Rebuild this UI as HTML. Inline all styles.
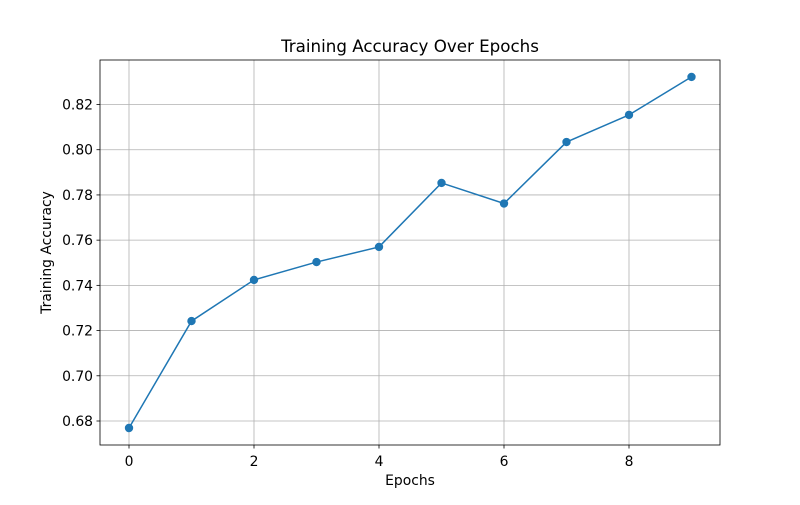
<!DOCTYPE html>
<html><head><meta charset="utf-8"><style>
body{margin:0;background:#fff;}
svg text{font-family:"DejaVu Sans","Liberation Sans",sans-serif;fill:#000;}
</style></head><body>
<svg id="chart" width="800" height="500">
<rect x="0" y="0" width="800" height="500" fill="#fff"/>
<g id="grid"></g>
<g id="ticks"></g>
<g id="series"></g>
<rect x="100" y="60" width="620" height="385" fill="none" stroke="#000" stroke-width="0.8"/>
<text x="410" y="52" font-size="16.7" text-anchor="middle">Training Accuracy Over Epochs</text>
<text x="410" y="485" font-size="13.9" text-anchor="middle">Epochs</text>
<text transform="translate(51,252.5) rotate(-90)" font-size="13.9" text-anchor="middle">Training Accuracy</text>
</svg>
<script>
const epochs=[0,1,2,3,4,5,6,7,8,9];
const accuracy=[0.6769,0.7242,0.7424,0.7503,0.7570,0.7853,0.7762,0.8034,0.8154,0.8322];
const xTicks=[0,2,4,6,8];
const yTicks=[0.68,0.70,0.72,0.74,0.76,0.78,0.80,0.82];
const yTickLabels=["0.68","0.70","0.72","0.74","0.76","0.78","0.80","0.82"];
const NS="http://www.w3.org/2000/svg";
function xs(v){return 129+(v-0)*62.5;}
function ys(v){return 421-(v-0.68)*2260.7;}
function mk(tag,attrs,parent){const e=document.createElementNS(NS,tag);for(const k in attrs)e.setAttribute(k,attrs[k]);parent.appendChild(e);return e;}
const grid=document.getElementById('grid'),ticks=document.getElementById('ticks'),series=document.getElementById('series');
xTicks.forEach(t=>{const x=xs(t);
 const g=mk('line',{x1:x,x2:x,y1:60,y2:445,stroke:'#b0b0b0','stroke-width':0.8},grid);
 
 
 mk('line',{x1:x,x2:x,y1:445,y2:448.5,stroke:'#000','stroke-width':0.8},ticks);
 const l=mk('text',{x:x,y:466,'font-size':13.9,'text-anchor':'middle'},ticks);l.textContent=t;
 
 
});
yTicks.forEach((t,i)=>{const y=ys(t);
 const g=mk('line',{x1:100,x2:720,y1:y,y2:y,stroke:'#b0b0b0','stroke-width':0.8},grid);
 
 
 mk('line',{x1:96.5,x2:100,y1:y,y2:y,stroke:'#000','stroke-width':0.8},ticks);
 const l=mk('text',{x:93,y:y+5,'font-size':13.9,'text-anchor':'end'},ticks);l.textContent=yTickLabels[i];
 
 
});
const pts=epochs.map((e,i)=>xs(e)+','+ys(accuracy[i])).join(' ');
const line=mk('polyline',{points:pts,fill:'none',stroke:'#1f77b4','stroke-width':1.5},series);


epochs.forEach((e,i)=>{const c=mk('circle',{cx:xs(e),cy:ys(accuracy[i]),r:4.2,fill:'#1f77b4'},series);
 
 
});
</script>
</body></html>
